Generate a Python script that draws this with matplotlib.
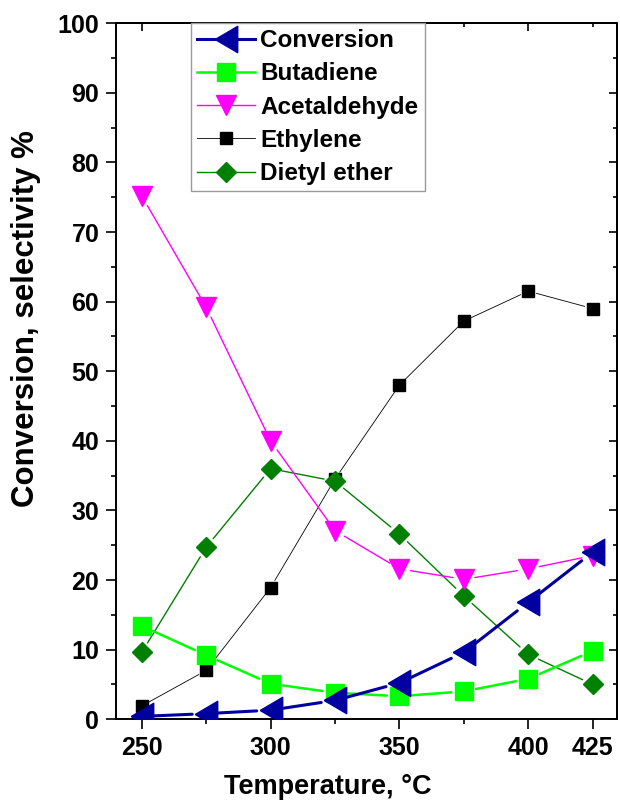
import matplotlib
matplotlib.use("Agg")
import matplotlib.pyplot as plt
from matplotlib.lines import Line2D
from matplotlib.ticker import FixedLocator, MultipleLocator

# data
temperature = [250, 275, 300, 325, 350, 375, 400, 425]
conversion = [0.4, 0.8, 1.3, 2.7, 5.2, 9.6, 16.8, 24.0]
butadiene = [13.4, 9.2, 5.1, 3.8, 3.3, 4.0, 5.8, 9.8]
acetaldehyde = [75.2, 59.2, 40.0, 27.1, 21.6, 20.1, 21.6, 23.5]
ethylene = [1.9, 7.0, 18.9, 34.5, 48.0, 57.2, 61.5, 59.0]
diethyl_ether = [9.6, 24.7, 36.0, 34.2, 26.6, 17.7, 9.3, 5.0]

x_major = [250, 300, 350, 400, 425]
x_minor = [275, 325, 375]

plt.rcParams["font.family"] = ["Liberation Sans", "DejaVu Sans"]
plt.rcParams["font.weight"] = "bold"

fig = plt.figure(figsize=(6.2, 8), dpi=100)
ax = fig.add_axes([0.187, 0.101, 0.808, 0.870])

# slightly tall left-pointing triangle like the original
tri_left = [(-0.85, 0), (0.85, -1), (0.85, 1), (-0.85, 0)]

# name, y, colour, line width, marker, marker size, gap start, gap end, zorder
series = [
    ("Ethylene", ethylene, "black", 0.6, "s", 8.5, 6, 6, 3),
    ("Dietyl ether", diethyl_ether, "#008000", 1.0, "D", 10, 8, 8, 4),
    ("Acetaldehyde", acetaldehyde, "#FF00FF", 1.0, "v", 15, 8, 8, 5),
    ("Butadiene", butadiene, "#00FF00", 1.8, "s", 13, 9, 9, 6),
    ("Conversion", conversion, "#0000A0", 2.2, tri_left, 19, 7, 10, 7),
]

handles = {}
for name, ys, col, lw, mk, ms, ga, gb, z in series:
    # Origin-style lines that stop short of the symbols
    for i in range(len(temperature) - 1):
        ax.annotate("", xy=(temperature[i + 1], ys[i + 1]),
                    xytext=(temperature[i], ys[i]),
                    arrowprops=dict(arrowstyle="-", color=col, lw=lw,
                                    shrinkA=ga, shrinkB=gb),
                    zorder=z)
    ax.plot(temperature, ys, ls="none", marker=mk, ms=ms, color=col, zorder=z)
    handles[name] = Line2D([], [], color=col, lw=lw, marker=mk, ms=ms)

ax.set_xlim(240, 434.4)
ax.set_ylim(0, 100)

ax.xaxis.set_major_locator(FixedLocator(x_major))
ax.xaxis.set_minor_locator(FixedLocator(x_minor))
ax.yaxis.set_major_locator(MultipleLocator(10))
ax.yaxis.set_minor_locator(MultipleLocator(5))

ax.tick_params(axis="both", which="major", labelsize=18, length=7, width=1.2,
               pad=5, direction="out")
ax.tick_params(axis="both", which="minor", length=3.5, width=1.2, direction="out")

# inward ticks on the top and right frame
sec_x = ax.secondary_xaxis("top")
sec_x.xaxis.set_major_locator(FixedLocator([250, 300, 350, 400]))
sec_x.xaxis.set_minor_locator(FixedLocator([275, 325, 375, 425]))
sec_x.tick_params(which="major", direction="in", length=6, width=1.2, labeltop=False)
sec_x.tick_params(which="minor", direction="in", length=3, width=1.2)
sec_x.spines["top"].set_linewidth(1.4)
sec_y = ax.secondary_yaxis("right")
sec_y.yaxis.set_major_locator(MultipleLocator(10))
sec_y.yaxis.set_minor_locator(MultipleLocator(5))
sec_y.tick_params(which="major", direction="in", length=6, width=1.2, labelright=False)
sec_y.tick_params(which="minor", direction="in", length=3, width=1.2)
sec_y.spines["right"].set_linewidth(1.4)

for s in ax.spines.values():
    s.set_linewidth(1.4)

for lab in ax.get_xticklabels() + ax.get_yticklabels():
    lab.set_fontweight("bold")

ax.set_xlabel("Temperature, °C", fontsize=19.5, fontweight="bold", va="center")
ax.xaxis.set_label_coords(0.423, -0.098)
ax.set_ylabel("Conversion, selectivity %", fontsize=22.5, fontweight="bold", va="center")
ax.yaxis.set_label_coords(-0.18, 0.576)

order = ["Conversion", "Butadiene", "Acetaldehyde", "Ethylene", "Dietyl ether"]
leg = ax.legend([handles[n] for n in order], order,
                loc="upper left", bbox_to_anchor=(0.15, 1.0), borderaxespad=0,
                prop={"weight": "bold", "size": 17.5},
                fancybox=False, framealpha=1, edgecolor="#999999",
                handlelength=2.4, handletextpad=0.2, labelspacing=0.42,
                borderpad=0.25)
leg.get_frame().set_linewidth(1.0)
leg.set_zorder(10)

fig.savefig("out.png", dpi=100)
